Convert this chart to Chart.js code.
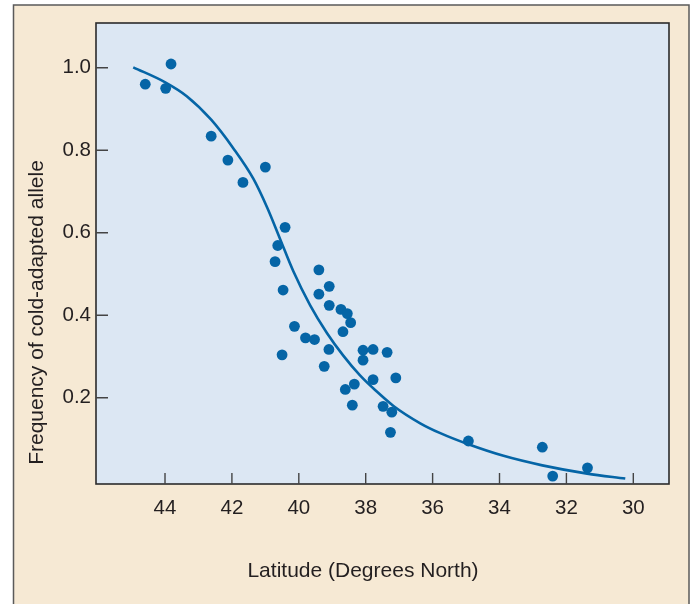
<!DOCTYPE html>
<html>
<head>
<meta charset="utf-8">
<script src="https://cdn.jsdelivr.net/npm/chart.js@4"></script>
<style>
  html, body { margin: 0; padding: 0; background: #ffffff; }
  #wrap { width: 691px; height: 604px; }
</style>
</head>
<body>
<div id="wrap"><canvas id="chart" width="691" height="604"></canvas></div>
<script>
// Observed populations: latitude (degrees N) and frequency of the cold-adapted allele.
const latitude = [
    43.82, 44.59, 43.98, 42.62, 42.12, 41.67, 41.00, 40.41, 40.63, 40.71,
    40.47, 40.50, 40.13, 39.80, 39.53, 39.40, 39.40, 39.09, 39.09, 39.24,
    39.10, 38.74, 38.55, 38.45, 38.68, 38.61, 38.34, 38.40, 38.08, 37.78,
    38.08, 37.78, 37.36, 37.10, 37.48, 37.22, 37.26, 34.93, 32.72, 32.41,
    31.37,
];
const frequency = [
    1.009, 0.960, 0.950, 0.834, 0.776, 0.722, 0.759, 0.613, 0.569, 0.530,
    0.461, 0.304, 0.373, 0.345, 0.341, 0.510, 0.451, 0.470, 0.424, 0.276,
    0.317, 0.414, 0.404, 0.382, 0.360, 0.220, 0.233, 0.182, 0.315, 0.317,
    0.291, 0.244, 0.310, 0.248, 0.179, 0.165, 0.116, 0.095, 0.080, 0.010,
    0.030,
];

// Fitted cline.
const curveLatitude = [
    44.95, 43.98, 43.35, 42.62, 41.96, 41.36, 40.94, 40.56, 40.16, 39.66,
    39.16, 38.67, 38.17, 37.67, 37.17, 36.37, 35.77, 34.93, 33.88, 32.72,
    31.38, 30.24,
];
const curveFrequency = [
    1.001, 0.964, 0.931, 0.874, 0.805, 0.731, 0.660, 0.585, 0.506, 0.424,
    0.357, 0.302, 0.254, 0.215, 0.180, 0.138, 0.114, 0.087, 0.059, 0.036,
    0.016, 0.004,
];

const xTicks = [44, 42, 40, 38, 36, 34, 32, 30];
const yTicks = [0.2, 0.4, 0.6, 0.8, 1.0];

const BLUE = "#0565a6";
const INK = "#231f20";
const FONT = "'Liberation Sans', Arial, Helvetica, sans-serif";

// Frame, plot background, inward tick marks and the two axis titles.
const framePlugin = {
    id: "frame",
    beforeDraw(chart) {
        const { ctx, chartArea: a } = chart;
        ctx.save();
        ctx.fillStyle = "#ffffff";
        ctx.fillRect(0, 0, chart.width, chart.height);
        ctx.fillStyle = "#f6e9d4";
        ctx.fillRect(13.5, 5, 689 - 13.5, chart.height);
        ctx.strokeStyle = "#5a5a5a";
        ctx.lineWidth = 1.5;
        ctx.strokeRect(13.5, 5, 689 - 13.5, chart.height + 5);
        ctx.fillStyle = "#dce7f3";
        ctx.fillRect(a.left, a.top, a.right - a.left, a.bottom - a.top);
        ctx.restore();
    },
    afterDraw(chart) {
        const { ctx, chartArea: a, scales } = chart;
        ctx.save();
        ctx.strokeStyle = "#2b2b2b";
        ctx.lineWidth = 1.6;
        ctx.strokeRect(a.left, a.top, a.right - a.left, a.bottom - a.top);

        ctx.strokeStyle = "#444444";
        ctx.lineWidth = 1.4;
        ctx.beginPath();
        scales.y.ticks.forEach(t => {
            const py = scales.y.getPixelForValue(t.value);
            ctx.moveTo(a.left, py);
            ctx.lineTo(a.left + 12, py);
        });
        scales.x.ticks.forEach(t => {
            const px = scales.x.getPixelForValue(t.value);
            ctx.moveTo(px, a.bottom);
            ctx.lineTo(px, a.bottom - 11);
        });
        ctx.stroke();

        ctx.fillStyle = INK;
        ctx.font = "21px " + FONT;
        ctx.textAlign = "center";
        ctx.textBaseline = "middle";
        ctx.fillText("Latitude (Degrees North)", 363, 571);
        ctx.translate(37.5, 312.5);
        ctx.rotate(-Math.PI / 2);
        ctx.fillText("Frequency of cold-adapted allele", 0, 0);
        ctx.restore();
    },
};

new Chart(document.getElementById("chart"), {
    type: "scatter",
    data: {
        datasets: [
            {
                label: "Populations",
                data: latitude.map((x, i) => ({ x, y: frequency[i] })),
                backgroundColor: BLUE,
                borderColor: BLUE,
                borderWidth: 0,
                pointRadius: 5.4,
                pointHoverRadius: 5.4,
            },
            {
                label: "Cline",
                data: curveLatitude.map((x, i) => ({ x, y: curveFrequency[i] })),
                showLine: true,
                borderColor: BLUE,
                borderWidth: 2.6,
                pointRadius: 0,
                cubicInterpolationMode: "monotone",
                fill: false,
            },
        ],
    },
    options: {
        responsive: false,
        animation: false,
        events: [],
        layout: { padding: { top: 23, right: 22, left: 0, bottom: 0 } },
        plugins: {
            legend: { display: false },
            tooltip: { enabled: false },
        },
        scales: {
            x: {
                type: "linear",
                reverse: true,
                min: 28.933,
                max: 46.063,
                afterFit: s => { s.height = 120; },
                afterBuildTicks: s => { s.ticks = xTicks.map(v => ({ value: v })); },
                grid: { display: false, drawTicks: false },
                border: { display: false },
                ticks: {
                    padding: 12,
                    color: INK,
                    font: { family: FONT, size: 20.5 },
                    callback: v => String(v),
                },
            },
            y: {
                type: "linear",
                min: -0.0092,
                max: 1.1084,
                afterFit: s => { s.width = 96; },
                afterBuildTicks: s => { s.ticks = yTicks.map(v => ({ value: v })); },
                grid: { display: false, drawTicks: false },
                border: { display: false },
                ticks: {
                    padding: 5,
                    color: INK,
                    font: { family: FONT, size: 20.5 },
                    callback: v => Number(v).toFixed(1),
                },
            },
        },
    },
    plugins: [framePlugin],
});
</script>
</body>
</html>
